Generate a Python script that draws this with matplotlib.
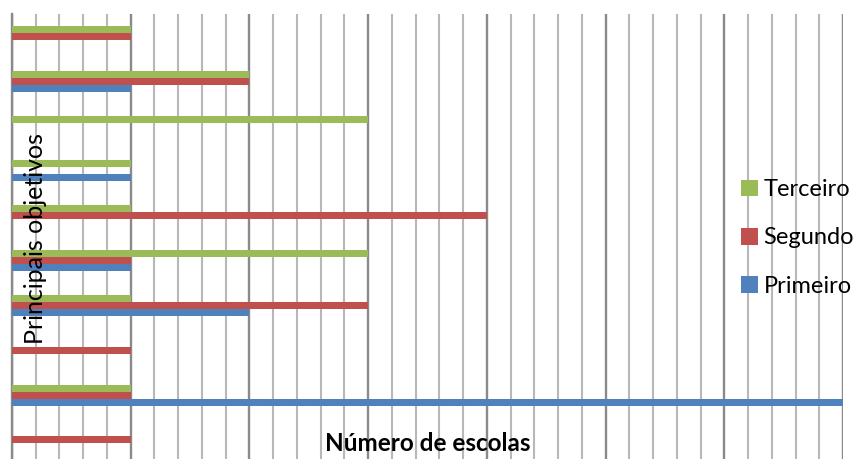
import matplotlib.pyplot as plt
import numpy as np
from matplotlib.ticker import MultipleLocator

plt.rcParams['font.family'] = ['Lato', 'DejaVu Sans']

# objetivos, de cima para baixo
objetivos = ['1', '2', '3', '4', '5', '6', '7', '8', '9', '10']
terceiro = [1, 2, 3, 1, 1, 3, 1, 0, 1, 0]
segundo = [1, 2, 0, 0, 4, 1, 3, 1, 1, 1]
primeiro = [0, 1, 0, 1, 0, 1, 2, 0, 7, 0]

cor_terc = '#9BBB59'
cor_seg = '#C0504D'
cor_prim = '#4F81BD'

fig = plt.figure(figsize=(8.58, 4.59), dpi=100)
ax = fig.add_axes([12 / 858, 1 - 462.4 / 459, 831 / 858, 448.4 / 459])

y = np.arange(len(objetivos))
h = 0.156
ax.barh(y - h, terceiro, height=h, color=cor_terc, label='Terceiro', zorder=3)
ax.barh(y, segundo, height=h, color=cor_seg, label='Segundo', zorder=3)
ax.barh(y + h, primeiro, height=h, color=cor_prim, label='Primeiro', zorder=3)

ax.set_xlim(0, 7)
ax.set_ylim(len(objetivos) - 0.5, -0.5)

# grade vertical: principal a cada escola, secundaria a cada 0.2
ax.xaxis.set_major_locator(MultipleLocator(1))
ax.xaxis.set_minor_locator(MultipleLocator(0.2))
ax.grid(axis='x', which='major', color='#8a8a8a', linewidth=1.7, zorder=0)
ax.grid(axis='x', which='minor', color='#b8b8b8', linewidth=1.5, zorder=0)
ax.set_axisbelow(True)
ax.tick_params(which='both', length=0, labelbottom=False, labelleft=False)

for s in ['top', 'right', 'bottom']:
    ax.spines[s].set_visible(False)
ax.spines['left'].set_color('#8a8a8a')
ax.spines['left'].set_linewidth(1.7)

ax.text(0.028, 0.5, 'Principais objetivos', rotation=90, transform=ax.transAxes,
        ha='center', va='center', fontsize=18, color='black', zorder=5)
ax.text(0.5, 0.043, 'Número de escolas', transform=ax.transAxes,
        ha='center', va='center', fontsize=17.5, fontweight='bold', color='black', zorder=5)

leg = ax.legend(loc='center left', bbox_to_anchor=(741 / 858, 1 - 238 / 459),
                bbox_transform=fig.transFigure, frameon=False, fontsize=17,
                handlelength=0.7, handleheight=0.7, handletextpad=0.25,
                labelspacing=1.15, borderpad=0, borderaxespad=0)

fig.savefig('out.png', dpi=100)
